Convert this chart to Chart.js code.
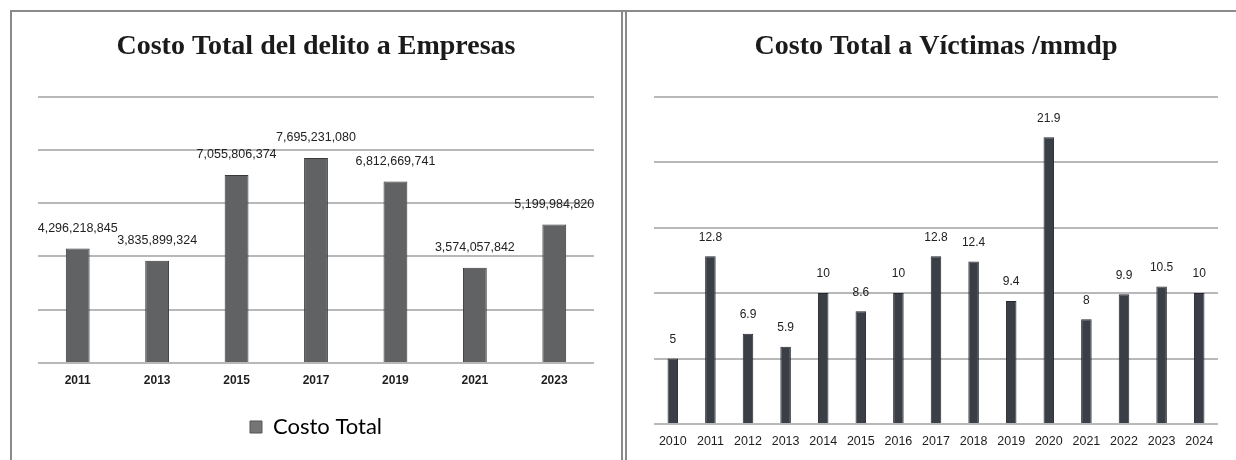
<!DOCTYPE html>
<html>
<head>
<meta charset="utf-8">
<script src="https://cdn.jsdelivr.net/npm/chart.js@4.4.1/dist/chart.umd.min.js"></script>
<style>
  html, body { margin: 0; padding: 0; background: #ffffff; }
  #wrap { position: relative; width: 1236px; height: 460px; overflow: hidden; background: #fff; }
  .ln { position: absolute; background: #8a8a8a; }
  canvas { position: absolute; }
</style>
</head>
<body>
<div id="wrap">
  <div class="ln" style="left:10px; top:10px; width:1226px; height:2px;"></div>
  <div class="ln" style="left:10px; top:10px; width:2px; height:450px;"></div>
  <div class="ln" style="left:621px; top:10px; width:2px; height:450px;"></div>
  <div class="ln" style="left:625px; top:10px; width:2px; height:450px;"></div>
  <canvas id="c1" width="609" height="448" style="left:12px; top:12px;"></canvas>
  <canvas id="c2" width="609" height="448" style="left:627px; top:12px;"></canvas>
</div>
<script>
// ---- Data ----
const empresasYears = ["2011", "2013", "2015", "2017", "2019", "2021", "2023"];
const empresasCosto = [4296218845, 3835899324, 7055806374, 7695231080, 6812669741, 3574057842, 5199984820];
const empresasSeriesName = "Costo Total";
const empresasTitle = "Costo Total del delito a Empresas";

const victimasYears = ["2010", "2011", "2012", "2013", "2014", "2015", "2016", "2017", "2018", "2019", "2020", "2021", "2022", "2023", "2024"];
const victimasCosto = [5, 12.8, 6.9, 5.9, 10, 8.6, 10, 12.8, 12.4, 9.4, 21.9, 8, 9.9, 10.5, 10];
const victimasSeriesName = "Costo Total a Víctimas";
const victimasTitle = "Costo Total a Víctimas /mmdp";

// ---- Value label plugin ----
const valueLabels = {
  id: 'valueLabels',
  afterDatasetsDraw(chart, args, opts) {
    const ctx = chart.ctx;
    const meta = chart.getDatasetMeta(0);
    const data = chart.data.datasets[0].data;
    ctx.save();
    ctx.font = opts.font;
    ctx.fillStyle = opts.color;
    ctx.textAlign = 'center';
    ctx.textBaseline = 'middle';
    meta.data.forEach((bar, i) => {
      ctx.fillText(opts.format(data[i]), bar.x, bar.y - opts.gap);
    });
    ctx.restore();
  }
};

const gridColor = '#b8b8b8';

// ---- Left chart ----
new Chart(document.getElementById('c1'), {
  type: 'bar',
  data: {
    labels: empresasYears,
    datasets: [{
      label: empresasSeriesName,
      data: empresasCosto,
      backgroundColor: '#616263',
      borderColor: '#3a3a3b',
      borderWidth: 1,
      categoryPercentage: 1,
      barPercentage: 0.30
    }]
  },
  options: {
    responsive: false,
    animation: false,
    devicePixelRatio: 1,
    layout: { padding: { left: 26, right: 27, top: 0, bottom: 12 } },
    plugins: {
      title: {
        display: true,
        text: empresasTitle,
        color: '#1b1b1b',
        font: { family: "'Liberation Serif', 'Times New Roman', serif", size: 28, weight: 'bold' },
        padding: { top: 18, bottom: 33 }
      },
      legend: {
        display: true,
        position: 'bottom',
        labels: {
          color: '#3a3a3a',
          font: { family: "Lato, 'Noto Sans', sans-serif", size: 22 },
          boxWidth: 12,
          boxHeight: 12,
          padding: 8,
          generateLabels(chart) {
            return [{ text: empresasSeriesName, fillStyle: '#747576', strokeStyle: '#555', lineWidth: 1, datasetIndex: 0 }];
          }
        }
      },
      tooltip: { enabled: false },
      valueLabels: {
        font: "12.5px 'Liberation Sans', Arial, sans-serif",
        color: '#222',
        gap: 20,
        format: v => v.toLocaleString('en-US')
      }
    },
    scales: {
      x: {
        grid: { display: false },
        border: { display: false },
        ticks: { color: '#1e1e1e', font: { family: "'Liberation Sans', Arial, sans-serif", size: 12, weight: 'bold' }, padding: 2 },
        afterFit(axis) { axis.height = 45; }
      },
      y: {
        min: 0,
        max: 10000000000,
        ticks: { display: false, stepSize: 2000000000 },
        grid: { color: gridColor, lineWidth: 2, drawTicks: false },
        border: { display: false }
      }
    }
  },
  plugins: [valueLabels]
});

// ---- Right chart ----
new Chart(document.getElementById('c2'), {
  type: 'bar',
  data: {
    labels: victimasYears,
    datasets: [{
      label: victimasSeriesName,
      data: victimasCosto,
      backgroundColor: '#3a3f47',
      borderColor: '#25282d',
      borderWidth: 1,
      categoryPercentage: 1,
      barPercentage: 0.28
    }]
  },
  options: {
    responsive: false,
    animation: false,
    devicePixelRatio: 1,
    layout: { padding: { left: 27, right: 18, top: 0, bottom: 6 } },
    plugins: {
      title: {
        display: true,
        text: victimasTitle,
        color: '#1b1b1b',
        font: { family: "'Liberation Serif', 'Times New Roman', serif", size: 28, weight: 'bold' },
        padding: { top: 18, bottom: 33 }
      },
      legend: { display: false },
      tooltip: { enabled: false },
      valueLabels: {
        font: "12px 'Liberation Sans', Arial, sans-serif",
        color: '#222',
        gap: 19,
        format: v => String(v)
      }
    },
    scales: {
      x: {
        grid: { display: false },
        border: { display: false },
        ticks: { color: '#1e1e1e', font: { family: "'Liberation Sans', Arial, sans-serif", size: 12.5 }, padding: 2, autoSkip: false, maxRotation: 0 },
        afterFit(axis) { axis.height = 30; }
      },
      y: {
        min: 0,
        max: 25,
        ticks: { display: false, stepSize: 5 },
        grid: { color: gridColor, lineWidth: 2, drawTicks: false },
        border: { display: false }
      }
    }
  },
  plugins: [valueLabels]
});
</script>
</body>
</html>
